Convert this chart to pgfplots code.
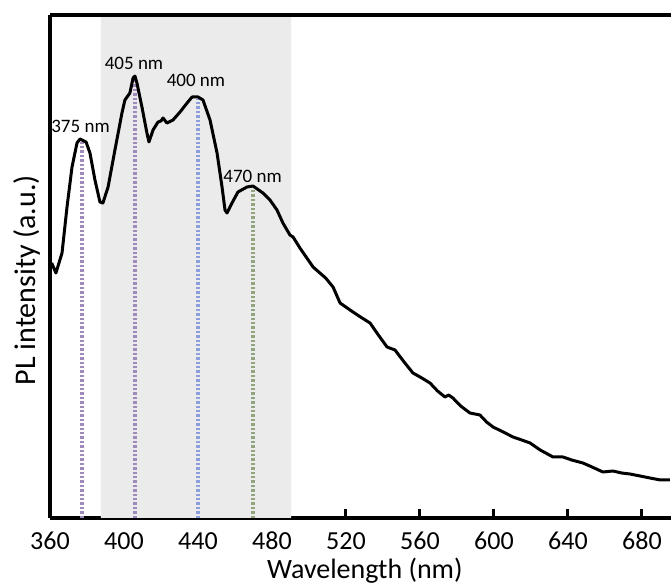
\documentclass[border=0pt]{standalone}
\usepackage{pgfplots}
\pgfplotsset{compat=1.18}
\usepackage{fontspec}
\setmainfont{Carlito}
\definecolor{shade}{HTML}{EBEBEB}
\definecolor{lpurple}{HTML}{9F8ABB}
\definecolor{lblue}{HTML}{8C9EDB}
\definecolor{lgreen}{HTML}{91A47E}
\begin{document}
\begin{tikzpicture}
\begin{axis}[
  scale only axis, width=621pt, height=503pt,
  xmin=360, xmax=695.7, ymin=0, ymax=503,
  axis x line*=bottom, axis y line*=left,
  axis line style={line width=3.6pt},
  xtick={360,400,...,680}, ytick=\empty,
  tick align=inside, major tick length=9pt,
  tick style={line width=3pt, black},
  /pgf/number format/assume math mode=true,
  ticklabel style={font=\fontsize{26}{29}\selectfont, inner sep=0pt},
  xticklabel style={anchor=base, yshift=-32pt},
  xlabel={Wavelength (nm)}, ylabel={PL intensity (a.u.)},
  xlabel style={font=\fontsize{28}{31}\selectfont, inner sep=0pt, at={(axis description cs:0.507,0)}, anchor=base, yshift=-61pt},
  ylabel style={font=\fontsize{30}{34}\selectfont, inner sep=0pt, at={(axis description cs:-0.016,0.473)}, anchor=south},
  clip=false,
]
\addplot[fill=shade, draw=none] coordinates {(387.5,0) (387.5,503) (490.3,503) (490.3,0)} \closedcycle;
\addplot[lpurple, line width=3.2pt, dash pattern=on 2.4pt off 2pt] coordinates {(377.3,0) (377.3,376)};
\addplot[lpurple, line width=3.2pt, dash pattern=on 2.4pt off 2pt] coordinates {(406.0,0) (406.0,438)};
\addplot[lblue, line width=3.2pt, dash pattern=on 2.4pt off 2pt] coordinates {(440.0,0) (440.0,419)};
\addplot[lgreen, line width=3.2pt, dash pattern=on 2.4pt off 2pt] coordinates {(469.7,0) (469.7,330)};
\addplot[black, line width=3pt, line join=round] coordinates {
(360.9,255) (363.2,245) (366.5,265) (369.2,311) (371.9,351) (374.6,375) (376.2,379)
(379.5,376) (381.6,365) (384.3,338) (387.0,316) (388.6,315) (391.4,331) (395.1,368)
(398.9,405) (400.5,418) (403.2,425) (404.9,440) (405.9,442) (407.0,435) (409.7,411)
(412.4,385) (413.5,376) (415.7,388) (418.4,396) (420.0,397) (421.1,400) (423.2,395)
(426.5,398) (430.3,406) (434.1,415) (436.8,421) (440.0,421) (442.7,418) (446.5,398)
(450.3,365) (453.0,331) (454.6,308) (455.7,305) (458.4,315) (461.6,326) (466.5,331)
(469.7,332) (475.1,325) (478.9,318) (482.7,308) (485.9,295) (489.7,283) (491.4,281)
(495.1,270) (502.2,251) (505.9,245) (509.0,240) (513.0,231) (516.8,215) (522.2,208)
(527.0,202) (533.0,195) (537.5,183) (542.2,171) (546.5,168) (551.0,157) (556.2,145)
(561.0,140) (565.4,135) (569.5,127) (573.5,121) (575.5,123) (577.8,120) (582.0,112)
(587.0,105) (592.4,103) (596.0,96) (599.5,91) (605.0,86) (610.3,81) (615.0,78)
(619.5,75) (625.0,68) (631.9,61) (637.3,61) (642.0,58) (648.1,55) (653.0,51)
(658.9,46) (664.3,47) (669.0,45) (673.5,44) (679.0,42) (684.3,40) (690.0,38) (695.1,38)
};
\node[font=\fontsize{19}{22}\selectfont, inner sep=0pt, anchor=base] at (axis cs:376.5,385) {375 nm};
\node[font=\fontsize{19}{22}\selectfont, inner sep=0pt, anchor=base] at (axis cs:405.4,448) {405 nm};
\node[font=\fontsize{19}{22}\selectfont, inner sep=0pt, anchor=base] at (axis cs:438.9,431) {400 nm};
\node[font=\fontsize{19}{22}\selectfont, inner sep=0pt, anchor=base] at (axis cs:469.5,335) {470 nm};
\draw[line width=3.6pt] (rel axis cs:0,1) -- (rel axis cs:1,1);
\coordinate (sw) at (rel axis cs:0,0);
\coordinate (ne) at (rel axis cs:1,1);
\end{axis}
\pgfresetboundingbox
\path[use as bounding box] ([xshift=-50pt,yshift=-67pt]sw) rectangle ([yshift=15pt]ne);
\end{tikzpicture}
\end{document}
